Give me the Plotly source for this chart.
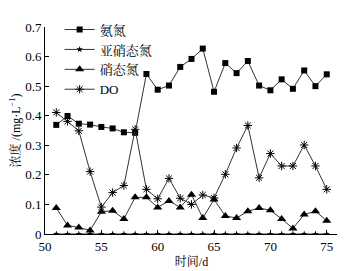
import plotly.graph_objects as go

days = list(range(51, 76))
ammonia = [0.369, 0.399, 0.373, 0.370, 0.362, 0.357, 0.344, 0.342, 0.541, 0.488, 0.502, 0.565,
           0.592, 0.627, 0.481, 0.578, 0.544, 0.585, 0.502, 0.486, 0.523, 0.491, 0.553, 0.500, 0.540]
nitrite = [0.0] * 25
nitrate = [0.088, 0.029, 0.022, 0.012, 0.075, 0.079, 0.051, 0.124, 0.124, 0.090, 0.112, 0.090,
           0.133, 0.054, 0.117, 0.061, 0.054, 0.077, 0.088, 0.080, 0.051, 0.019, 0.066, 0.077, 0.045]
do = [0.411, 0.381, 0.349, 0.211, 0.091, 0.140, 0.164, 0.354, 0.151, 0.119, 0.188, 0.121,
      0.100, 0.132, 0.122, 0.202, 0.291, 0.367, 0.190, 0.272, 0.230, 0.230, 0.301, 0.230, 0.151]

names = ["氨氮", "亚硝态氮", "硝态氮", "DO"]
x_ticks = [50, 55, 60, 65, 70, 75]
y_ticks = [0, 0.1, 0.2, 0.3, 0.4, 0.5, 0.6, 0.7]
y_ticktext = ["0", "0.1", "0.2", "0.3", "0.4", "0.5", "0.6", "0.7"]

font = "Liberation Serif, Times New Roman, Noto Serif CJK SC, Noto Sans CJK SC, serif"
line = dict(color="#333333", width=1)

fig = go.Figure()
fig.add_trace(go.Scatter(x=days, y=ammonia, name=names[0], mode="lines+markers", line=line,
                         marker=dict(symbol="square", size=6, color="black")))
fig.add_trace(go.Scatter(x=days, y=nitrite, name=names[1], mode="lines+markers", line=line,
                         marker=dict(symbol="star", size=5, color="black")))
fig.add_trace(go.Scatter(x=days, y=nitrate, name=names[2], mode="lines+markers", line=line,
                         marker=dict(symbol="triangle-up", size=8, color="black")))
fig.add_trace(go.Scatter(x=days, y=do, name=names[3], mode="lines+markers", line=line,
                         marker=dict(symbol="asterisk-open", size=7, color="black",
                                     line=dict(color="#333333", width=1))))

fig.update_layout(
    width=337, height=263,
    margin=dict(l=30, r=7, t=7, b=35),
    paper_bgcolor="white", plot_bgcolor="white",
    font=dict(family=font, size=13, color="black"),
    showlegend=True,
    legend=dict(x=0.05, y=1.06, xanchor="left", yanchor="top", bgcolor="rgba(0,0,0,0)",
                font=dict(size=13), itemwidth=30, tracegroupgap=0),
    xaxis=dict(range=[50, 76], tickvals=x_ticks, ticks="inside", ticklen=4, tickcolor="black",
               showline=True, linecolor="black", linewidth=1, showgrid=False, zeroline=False,
               tickfont=dict(size=13),
               title=dict(text="时间/d", standoff=2, font=dict(size=12))),
    yaxis=dict(range=[0, 0.7], tickvals=y_ticks, ticktext=y_ticktext,
               ticks="inside", ticklen=4, tickcolor="black",
               showline=True, linecolor="black", linewidth=1, showgrid=False, zeroline=False,
               tickfont=dict(size=13),
               title=dict(text="浓度 /(mg·L<sup>−1</sup>)", standoff=2, font=dict(size=12))),
)

fig.write_html("out.html")
